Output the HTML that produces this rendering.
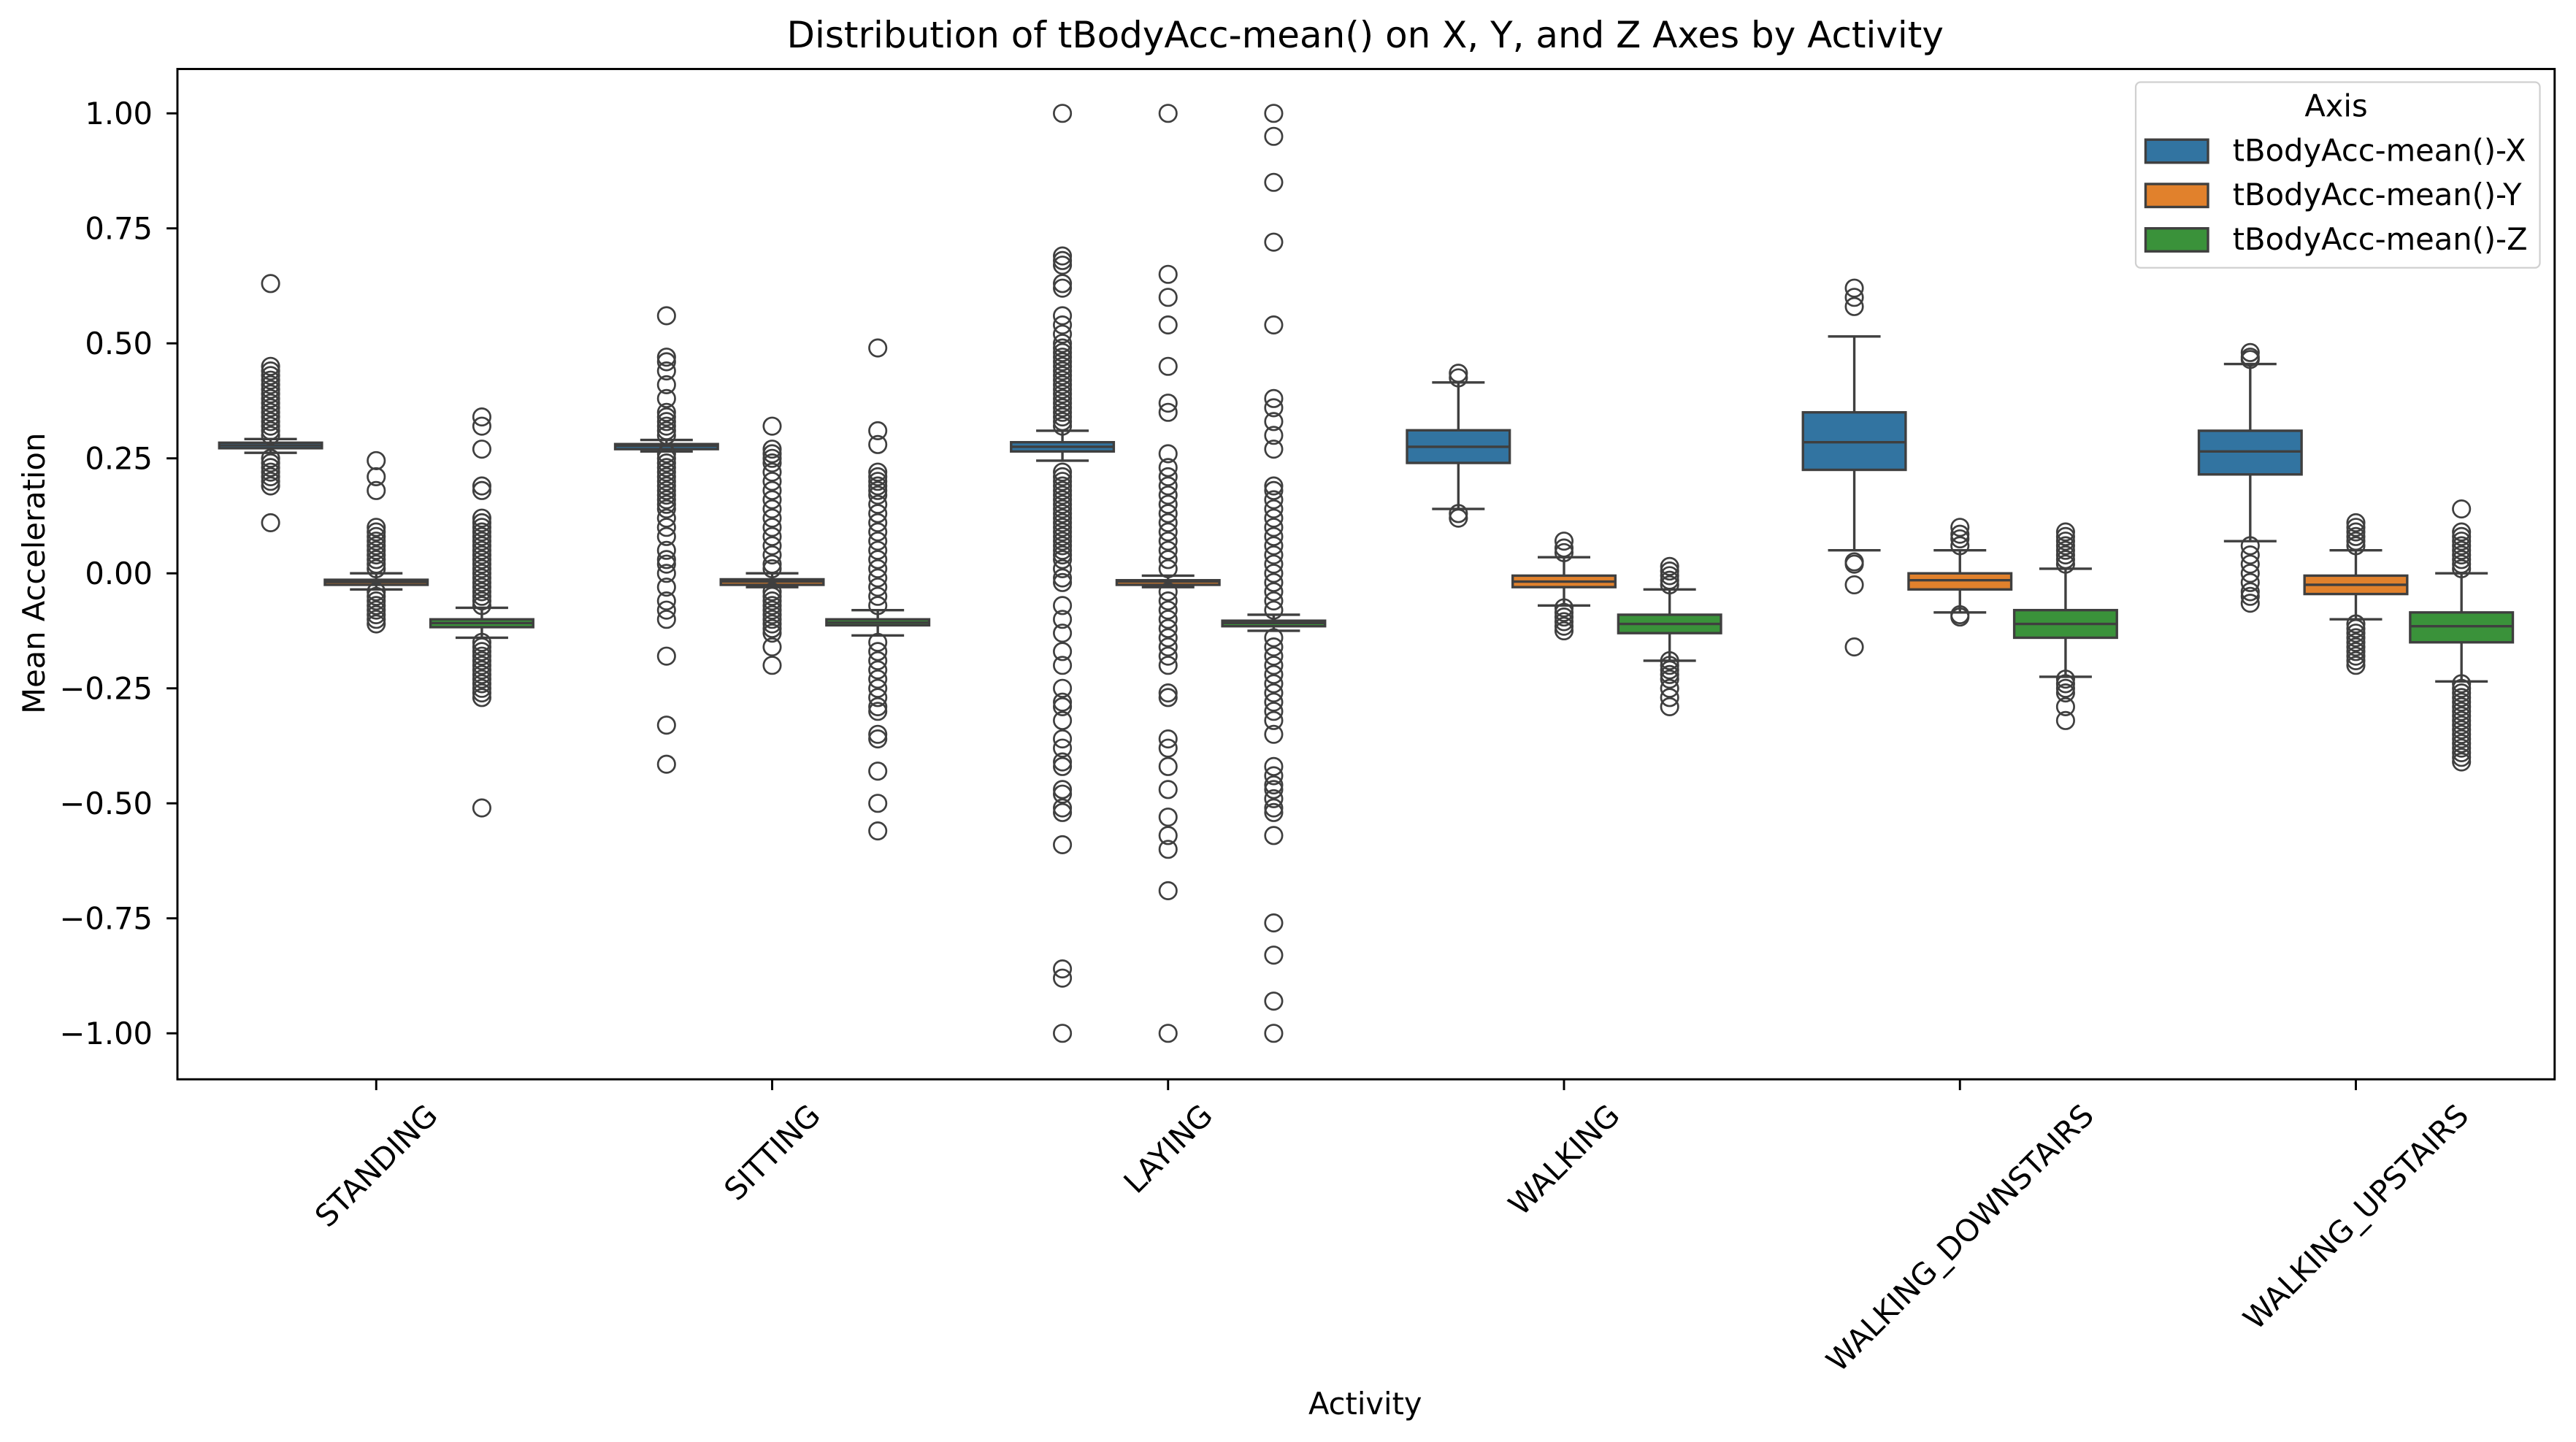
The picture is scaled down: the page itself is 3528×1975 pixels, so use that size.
<!DOCTYPE html>
<html><head><meta charset="utf-8">
<style>
html,body{margin:0;padding:0;background:#fff;}
svg{display:block;font-family:"DejaVu Sans","Liberation Sans",sans-serif;}
</style></head>
<body>
<svg id="chart" width="3528" height="1975" viewBox="0 0 1568 877.78" xmlns="http://www.w3.org/2000/svg">
<rect x="0" y="0" width="1568" height="877.78" fill="#fff"/>
<g id="plot"></g>
<g id="axes"></g>
<text x="831" y="29" text-anchor="middle" font-size="22.2" fill="#000">Distribution of tBodyAcc-mean() on X, Y, and Z Axes by Activity</text>
<text x="831" y="861" text-anchor="middle" font-size="18.5" fill="#000">Activity</text>
<text transform="translate(27,349) rotate(-90)" text-anchor="middle" font-size="18.5" fill="#000">Mean Acceleration</text>
<g>
<rect x="1300" y="50" width="246" height="113" rx="3" fill="#fff" fill-opacity="0.8" stroke="#d0d0d0" stroke-width="1"/>
<text x="1422" y="71" text-anchor="middle" font-size="18.5">Axis</text>
<g><rect x="1306" y="85" width="38" height="14" fill="#3274a1" stroke="#3f3f3f" stroke-width="1.5"/><text x="1359" y="98" font-size="18.5">tBodyAcc-mean()-X</text></g>
<g><rect x="1306" y="112" width="38" height="14" fill="#e1812c" stroke="#3f3f3f" stroke-width="1.5"/><text x="1359" y="125" font-size="18.5">tBodyAcc-mean()-Y</text></g>
<g><rect x="1306" y="139" width="38" height="14" fill="#3a923a" stroke="#3f3f3f" stroke-width="1.5"/><text x="1359" y="152" font-size="18.5">tBodyAcc-mean()-Z</text></g>
</g>
</svg>
<script>
const categories = ["STANDING","SITTING","LAYING","WALKING","WALKING_DOWNSTAIRS","WALKING_UPSTAIRS"];
const hues = ["tBodyAcc-mean()-X","tBodyAcc-mean()-Y","tBodyAcc-mean()-Z"];
const yTicks = [1.0,0.75,0.5,0.25,0.0,-0.25,-0.5,-0.75,-1.0];
const yTickLabels = ["1.00","0.75","0.50","0.25","0.00","\u22120.25","\u22120.50","\u22120.75","\u22121.00"];
// [whiskerLow, q1, median, q3, whiskerHigh] per activity, per axis
const statsX = [[0.262,0.272,0.278,0.284,0.292],[0.265,0.270,0.277,0.281,0.290],[0.245,0.265,0.275,0.285,0.31],[0.14,0.24,0.275,0.311,0.415],[0.05,0.225,0.285,0.35,0.515],[0.07,0.215,0.265,0.31,0.455]];
const statsY = [[-0.035,-0.025,-0.019,-0.014,0.0],[-0.03,-0.025,-0.018,-0.013,0.0],[-0.03,-0.025,-0.018,-0.015,-0.005],[-0.07,-0.03,-0.018,-0.005,0.035],[-0.085,-0.035,-0.015,0.0,0.05],[-0.1,-0.045,-0.025,-0.005,0.05]];
const statsZ = [[-0.14,-0.117,-0.108,-0.1,-0.075],[-0.135,-0.113,-0.107,-0.1,-0.08],[-0.125,-0.115,-0.108,-0.103,-0.09],[-0.19,-0.13,-0.11,-0.09,-0.035],[-0.225,-0.14,-0.11,-0.08,0.01],[-0.235,-0.15,-0.115,-0.085,0.0]];
const outliersX = [
 [0.63,0.45,0.44,0.43,0.42,0.41,0.40,0.39,0.38,0.37,0.36,0.35,0.34,0.33,0.32,0.31,0.30,0.25,0.24,0.23,0.22,0.21,0.20,0.19,0.11],
 [0.56,0.47,0.46,0.44,0.41,0.38,0.35,0.34,0.33,0.32,0.31,0.30,0.26,0.25,0.24,0.23,0.22,0.21,0.20,0.19,0.18,0.17,0.16,0.15,0.14,0.12,0.10,0.08,0.05,0.03,0.02,0.0,-0.03,-0.06,-0.08,-0.1,-0.18,-0.33,-0.415],
 [1.0,0.69,0.68,0.67,0.63,0.62,0.56,0.54,0.52,0.50,0.49,0.48,0.47,0.46,0.45,0.44,0.43,0.42,0.41,0.40,0.39,0.38,0.37,0.36,0.35,0.34,0.33,0.32,0.22,0.21,0.20,0.19,0.18,0.17,0.16,0.15,0.14,0.13,0.12,0.11,0.10,0.09,0.08,0.07,0.06,0.05,0.04,0.03,0.01,-0.01,-0.02,-0.07,-0.1,-0.13,-0.17,-0.2,-0.25,-0.28,-0.29,-0.32,-0.36,-0.38,-0.41,-0.42,-0.47,-0.48,-0.51,-0.52,-0.59,-0.86,-0.88,-1.0],
 [0.435,0.425,0.13,0.12],
 [0.62,0.6,0.58,0.025,0.02,-0.025,-0.16],
 [0.48,0.47,0.465,0.06,0.04,0.02,0.0,-0.02,-0.04,-0.05,-0.065]];
const outliersY = [
 [0.245,0.21,0.18,0.1,0.09,0.08,0.07,0.06,0.05,0.04,0.03,0.02,0.01,-0.04,-0.05,-0.06,-0.07,-0.08,-0.09,-0.1,-0.11],
 [0.32,0.27,0.26,0.25,0.24,0.22,0.2,0.18,0.16,0.14,0.12,0.1,0.08,0.06,0.04,0.02,0.01,-0.04,-0.05,-0.06,-0.07,-0.08,-0.09,-0.1,-0.11,-0.12,-0.13,-0.16,-0.2],
 [1.0,0.65,0.6,0.54,0.45,0.37,0.35,0.26,0.23,0.21,0.19,0.17,0.15,0.13,0.11,0.09,0.07,0.05,0.03,0.01,-0.04,-0.06,-0.08,-0.1,-0.12,-0.14,-0.16,-0.18,-0.2,-0.26,-0.27,-0.36,-0.38,-0.42,-0.47,-0.53,-0.57,-0.6,-0.69,-1.0],
 [0.07,0.055,0.045,-0.075,-0.085,-0.095,-0.105,-0.115,-0.125],
 [0.1,0.085,0.075,0.06,-0.09,-0.095],
 [0.11,0.1,0.09,0.08,0.07,0.06,-0.11,-0.12,-0.13,-0.14,-0.15,-0.16,-0.17,-0.18,-0.19,-0.2]];
const outliersZ = [
 [0.34,0.32,0.27,0.19,0.18,0.12,0.11,0.1,0.09,0.08,0.07,0.06,0.05,0.04,0.03,0.02,0.01,0.0,-0.01,-0.02,-0.03,-0.04,-0.05,-0.06,-0.07,-0.15,-0.16,-0.17,-0.18,-0.19,-0.2,-0.21,-0.22,-0.23,-0.24,-0.25,-0.26,-0.27,-0.51],
 [0.49,0.31,0.28,0.22,0.21,0.2,0.19,0.18,0.17,0.15,0.13,0.11,0.09,0.07,0.05,0.03,0.01,-0.01,-0.03,-0.05,-0.07,-0.15,-0.17,-0.19,-0.21,-0.23,-0.25,-0.27,-0.29,-0.3,-0.35,-0.36,-0.43,-0.5,-0.56],
 [1.0,0.95,0.85,0.72,0.54,0.38,0.36,0.33,0.3,0.27,0.19,0.18,0.16,0.14,0.12,0.1,0.08,0.06,0.04,0.02,0.0,-0.02,-0.04,-0.06,-0.08,-0.14,-0.16,-0.18,-0.2,-0.22,-0.24,-0.26,-0.28,-0.3,-0.32,-0.35,-0.42,-0.44,-0.46,-0.47,-0.49,-0.51,-0.52,-0.57,-0.76,-0.83,-0.93,-1.0],
 [0.015,0.005,-0.005,-0.015,-0.025,-0.19,-0.2,-0.21,-0.22,-0.23,-0.25,-0.27,-0.29],
 [0.09,0.08,0.07,0.06,0.05,0.04,0.03,0.02,-0.23,-0.24,-0.25,-0.26,-0.29,-0.32],
 [0.14,0.09,0.08,0.07,0.06,0.05,0.04,0.03,0.02,0.01,-0.24,-0.25,-0.26,-0.27,-0.28,-0.29,-0.3,-0.31,-0.32,-0.33,-0.34,-0.35,-0.36,-0.37,-0.38,-0.39,-0.4,-0.41]];

const hueColors = ["#3274a1","#e1812c","#3a923a"];
const hueKeys = ["x","y","z"];
const allStats = [statsX, statsY, statsZ];
const allOut = [outliersX, outliersY, outliersZ];
const NS = "http://www.w3.org/2000/svg";
const PL = 108, PR = 1555, PT = 42, PB = 657;
const yScale = v => 349 - v * 280;
const catStep = 241, catStart = 229;
const xScale = i => catStart + catStep * i;
const hueOffset = h => (h - 1) * 64.3;
const boxW = 64;
const LC = "#3f3f3f";
const TL = 6.6;
function mk(tag, attrs, parent){const e=document.createElementNS(NS,tag);for(const k in attrs)e.setAttribute(k,attrs[k]);parent.appendChild(e);return e;}
const plot = document.getElementById('plot');
const axes = document.getElementById('axes');

categories.forEach((cat, i) => {
  const g = mk('g', {}, plot);
  
  
  for (let h = 0; h < 3; h++) {
    const s = allStats[h][i];
    const cx = xScale(i) + hueOffset(h);
    const bg = mk('g', {}, g);
    
    
    mk('line', {x1:cx, x2:cx, y1:yScale(s[0]), y2:yScale(s[1]), stroke:LC, 'stroke-width':1.5}, bg);
    mk('line', {x1:cx, x2:cx, y1:yScale(s[3]), y2:yScale(s[4]), stroke:LC, 'stroke-width':1.5}, bg);
    mk('line', {x1:cx-boxW/4, x2:cx+boxW/4, y1:yScale(s[0]), y2:yScale(s[0]), stroke:LC, 'stroke-width':1.5}, bg);
    mk('line', {x1:cx-boxW/4, x2:cx+boxW/4, y1:yScale(s[4]), y2:yScale(s[4]), stroke:LC, 'stroke-width':1.5}, bg);
    mk('rect', {x:cx-boxW/2+0.75, y:yScale(s[3]), width:boxW-1.5, height:Math.max(0.5, yScale(s[1])-yScale(s[3])), fill:hueColors[h], stroke:LC, 'stroke-width':1.5}, bg);
    mk('line', {x1:cx-boxW/2+0.75, x2:cx+boxW/2-0.75, y1:yScale(s[2]), y2:yScale(s[2]), stroke:LC, 'stroke-width':1.5}, bg);
    allOut[h][i].forEach(v => {
      const c = mk('circle', {cx:cx, cy:yScale(v), r:5.2, fill:'none', stroke:LC, 'stroke-width':1.2}, bg);
      
      
    });
  }
});

const frame = mk('rect', {x:PL, y:PT, width:PR-PL, height:PB-PT, fill:'none', stroke:'#000', 'stroke-width':1.3}, axes);


yTicks.forEach((v, k) => {
  const y = yScale(v);
  const t = mk('line', {x1:PL-TL, x2:PL, y1:y, y2:y, stroke:'#000', 'stroke-width':1.3}, axes);
  
  
  const tx = mk('text', {x:PL-TL-8.5, y:y+6.5, 'text-anchor':'end', 'font-size':18.5, fill:'#000'}, axes);
  tx.textContent = yTickLabels[k];
  
  
});
categories.forEach((cat, i) => {
  const x = xScale(i);
  const t = mk('line', {x1:x, x2:x, y1:PB, y2:PB+TL, stroke:'#000', 'stroke-width':1.3}, axes);
  
  
  const tx = mk('text', {x:0, y:0, 'text-anchor':'middle', 'font-size':18.5, fill:'#000'}, axes);
  tx.textContent = cat;
  
  
  const w = tx.getComputedTextLength ? tx.getComputedTextLength() : cat.length * 12;
  const hgt = 17;
  const bboxH = (w + hgt) * 0.7071;
  const cy = PB + TL + 6 + bboxH / 2;
  tx.setAttribute('transform', 'translate(' + x + ',' + cy + ') rotate(-45) translate(0,' + (hgt*0.38) + ')');
});
</script>
</body></html>
